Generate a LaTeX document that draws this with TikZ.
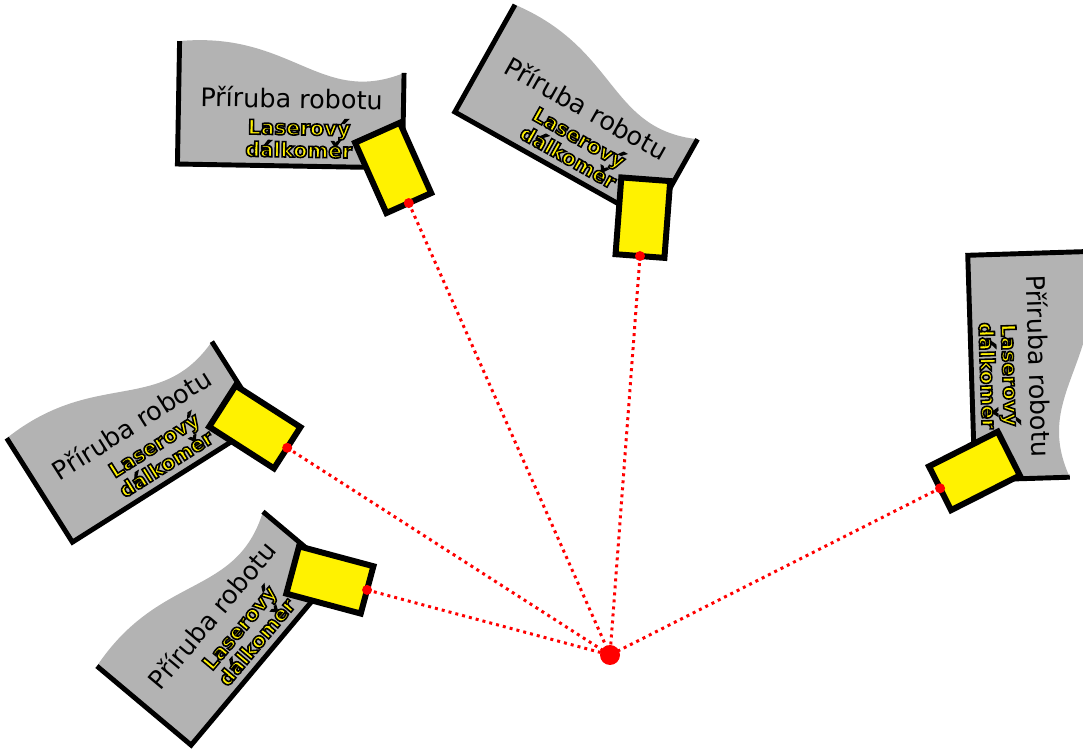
\documentclass[tikz,border=0pt]{standalone}
\usepackage{fontspec}
\setmainfont{DejaVu Sans}
\definecolor{flangegray}{HTML}{B3B3B3}
% yellow lettering with a black stroke round the glyphs
\newcommand\outlined[1]{\special{pdf:literal direct 0 0 0 RG 2 Tr 0.9 w}#1\special{pdf:literal direct 0 Tr}}

\begin{document}
\begin{tikzpicture}[x=0.02cm, y=0.02cm,
    flange/.style={fill=flangegray},
    rim/.style={line width=2.8pt},
    laser/.style={fill=yellow, draw=black, line width=3.4pt},
    beam/.style={red, line width=1.7pt, dash pattern=on 1.7pt off 2.3pt}]
  \useasboundingbox (0,0) rectangle (1083,751);
  \coordinate (C) at (610,96);
  % each unit: flange + rangefinder, aimed at C
  \foreach \a/\d [count=\i] in {114.0/494.7, 85.7/400.1, 147.3/383.6, 165.0/251.5, 26.8/369.8} {
    \begin{scope}[shift={(C)}, rotate=\a-90]
      \begin{scope}[shift={(0,\d)}]
        \begin{scope}[rotate=-25]
          \fill[flange] (-232,35) -- (-232,158) .. controls (-120,170) and (-90,95) .. (-7,130) -- (-7,35) -- cycle;
          \draw[rim] (-232,158) -- (-232,35) -- (-7,35) -- (-7,130);
          \node[transform shape, font=\fontsize{14.5}{17}\selectfont] (flange\i) at (-119,103) {Příruba robotu};
          \node[transform shape, text=yellow, align=center, font=\fontsize{11.5}{10}\selectfont\bfseries] (label\i) at (-111,63) {\outlined{Laserový}\\\outlined{dálkoměr}};
        \end{scope}
        \draw[laser] (-24.5,0) rectangle (24.5,77);
        \coordinate (dot\i) at (0,0);
      \end{scope}
    \end{scope}
  }
  \foreach \i in {1,...,5} \draw[beam] (dot\i) -- (C);
  \foreach \i in {1,...,5} \fill[red] (dot\i) circle (5);
  \fill[red] (C) circle (10);
\end{tikzpicture}
\end{document}
